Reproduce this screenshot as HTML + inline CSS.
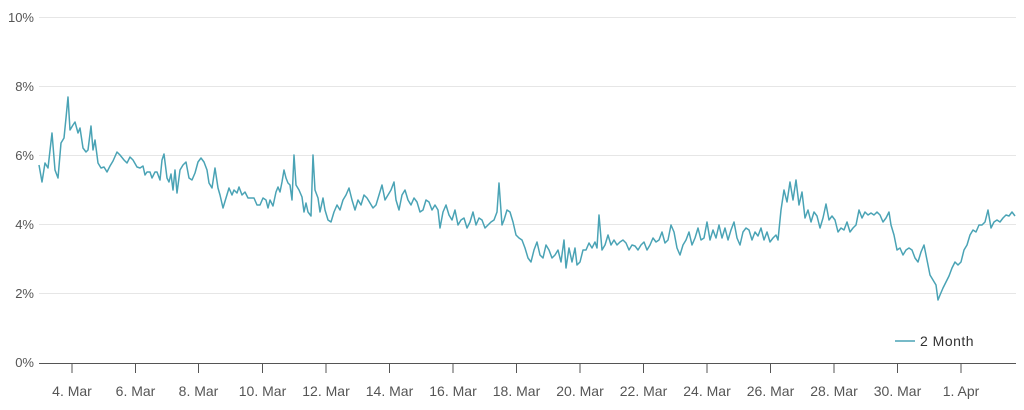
<!DOCTYPE html>
<html><head><meta charset="utf-8"><style>
body{margin:0;background:#fff;width:1024px;height:410px;overflow:hidden}
svg{display:block;font-family:"Liberation Sans",sans-serif}
</style></head><body>
<svg width="1024" height="410" viewBox="0 0 1024 410">
<g stroke="#e6e6e6" stroke-width="1">
<line x1="39" y1="17.5" x2="1016" y2="17.5"/>
<line x1="39" y1="86.5" x2="1016" y2="86.5"/>
<line x1="39" y1="155.5" x2="1016" y2="155.5"/>
<line x1="39" y1="224.5" x2="1016" y2="224.5"/>
<line x1="39" y1="293.5" x2="1016" y2="293.5"/>
</g>
<g font-size="13" fill="#555" text-anchor="end">
<text x="34" y="22">10%</text><text x="34" y="91">8%</text><text x="34" y="160">6%</text>
<text x="34" y="229">4%</text><text x="34" y="298">2%</text><text x="34" y="367">0%</text>
</g>
<line x1="39" y1="363.5" x2="1016" y2="363.5" stroke="#555" stroke-width="1"/>
<g stroke="#555" stroke-width="1">
<line x1="72" y1="363" x2="72" y2="373"/><line x1="135.5" y1="363" x2="135.5" y2="373"/>
<line x1="198.5" y1="363" x2="198.5" y2="373"/><line x1="262.5" y1="363" x2="262.5" y2="373"/>
<line x1="326" y1="363" x2="326" y2="373"/><line x1="389.5" y1="363" x2="389.5" y2="373"/>
<line x1="453" y1="363" x2="453" y2="373"/><line x1="516.5" y1="363" x2="516.5" y2="373"/>
<line x1="580" y1="363" x2="580" y2="373"/><line x1="643.5" y1="363" x2="643.5" y2="373"/>
<line x1="707" y1="363" x2="707" y2="373"/><line x1="770.5" y1="363" x2="770.5" y2="373"/>
<line x1="834" y1="363" x2="834" y2="373"/><line x1="897.5" y1="363" x2="897.5" y2="373"/>
<line x1="961" y1="363" x2="961" y2="373"/>
</g>
<g font-size="14" fill="#555" text-anchor="middle">
<text x="72" y="396">4. Mar</text><text x="135.5" y="396">6. Mar</text><text x="198.5" y="396">8. Mar</text>
<text x="262.5" y="396">10. Mar</text><text x="326" y="396">12. Mar</text><text x="389.5" y="396">14. Mar</text>
<text x="453" y="396">16. Mar</text><text x="516.5" y="396">18. Mar</text><text x="580" y="396">20. Mar</text>
<text x="643.5" y="396">22. Mar</text><text x="707" y="396">24. Mar</text><text x="770.5" y="396">26. Mar</text>
<text x="834" y="396">28. Mar</text><text x="897.5" y="396">30. Mar</text><text x="961" y="396">1. Apr</text>
</g>
<polyline fill="none" stroke="#4aa3b5" stroke-width="1.5" stroke-linejoin="round" points="39,165 42,182 45,163 48,168 52,133 55,170 58,178 61,143 64,138 66,118 68,97 70,130 73,125 75,122 78,133 80,128 83,148 86,152 88,150 91,126 93,150 95,140 98,163 101,168 104,167 107,172 110,166 113,161 117,152 120,155 124,160 127,163 130,157 133,160 137,167 140,168 143,166 145,175 147,172 150,172 152,178 155,172 157,172 160,180 162,160 164,154 167,178 169,182 171,174 173,190 175,170 177,193 180,170 183,165 186,162 189,178 192,180 195,173 198,162 201,158 204,162 207,170 209,183 212,188 215,168 218,188 220,195 223,208 226,198 229,188 232,195 234,190 237,193 239,187 242,195 245,192 248,198 251,198 254,198 257,205 260,205 263,198 266,200 268,208 270,200 273,206 276,192 278,187 280,192 282,182 284,170 286,178 288,183 290,185 292,200 294,155 296,185 299,190 302,197 304,212 306,203 308,212 311,216 313,155 315,190 318,198 320,212 323,198 325,210 328,220 331,222 334,212 337,205 340,210 343,200 346,195 349,188 352,200 355,210 358,200 361,205 364,195 367,198 370,203 373,208 376,205 379,195 382,185 385,200 388,195 391,190 394,182 396,200 399,210 402,195 405,190 408,200 411,205 414,198 417,202 420,212 423,210 426,200 429,202 432,210 435,205 438,210 440,228 443,212 446,205 449,215 452,220 455,210 458,225 461,220 464,218 467,228 470,222 473,212 476,225 479,218 482,220 485,228 488,225 491,222 494,220 497,212 499,183 502,225 504,220 507,210 510,212 513,222 516,235 519,238 522,240 525,248 528,258 531,262 534,250 537,242 540,255 543,258 546,245 549,250 552,258 555,255 558,250 561,262 564,240 566,268 569,248 572,262 575,248 577,265 580,262 583,250 586,250 589,243 592,248 595,242 597,248 599,215 602,250 605,245 608,235 611,245 614,240 617,245 620,242 623,240 626,243 629,250 632,245 635,246 638,250 641,245 644,242 647,250 650,245 653,238 656,242 659,240 662,232 665,243 668,240 671,225 674,232 677,248 680,255 683,245 686,240 689,232 692,245 695,238 698,228 701,240 704,238 707,222 710,240 713,230 716,238 719,225 722,238 725,228 728,240 731,230 734,222 737,238 740,245 743,232 746,228 749,230 752,240 755,232 758,236 761,228 764,240 767,232 770,242 773,238 776,235 778,240 781,210 784,190 787,202 790,182 793,200 796,180 799,205 802,192 805,218 808,210 811,222 814,212 817,216 820,228 823,218 826,204 829,220 832,216 835,220 838,232 841,228 844,230 847,222 850,232 853,228 856,225 859,210 862,218 865,212 868,215 871,213 874,215 877,212 880,215 883,222 886,218 889,212 891,225 894,235 897,250 900,248 903,255 906,250 909,248 912,250 915,258 918,262 921,252 924,245 927,260 930,275 933,280 936,285 938,300 940,295 943,288 946,282 949,276 952,268 955,262 958,265 961,262 964,250 967,245 970,235 973,230 976,232 979,225 982,225 985,222 988,210 991,228 994,222 997,220 1000,222 1003,218 1006,215 1009,216 1012,212 1015,216"/>
<line x1="895" y1="341" x2="915" y2="341" stroke="#4aa3b5" stroke-width="1.5"/>
<text x="920" y="346" font-size="14" letter-spacing="0.5" fill="#333">2 Month</text>
</svg>
</body></html>
